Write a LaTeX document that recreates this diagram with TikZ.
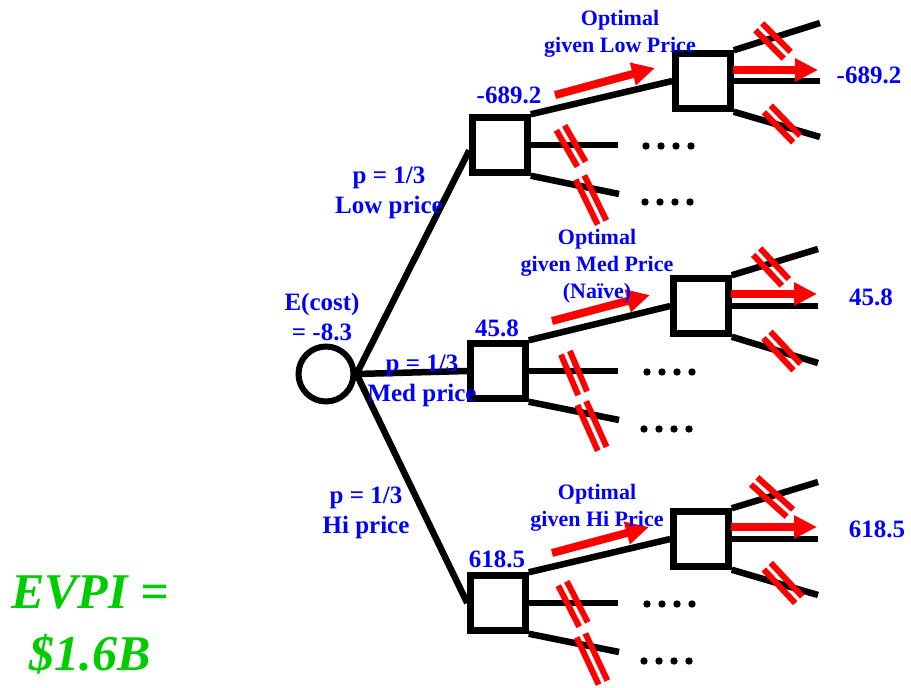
\documentclass[tikz,border=0pt]{standalone}
\usepackage{fontspec}
\setmainfont{Liberation Serif}
\usetikzlibrary{positioning,arrows.meta}
\definecolor{txtblue}{RGB}{0,0,255}
\definecolor{evgreen}{RGB}{0,204,0}
\tikzset{
  branch/.style={line width=6.5pt},
  choice/.style={draw, line width=6.5pt, fill=white, minimum size=55pt, inner sep=0pt},
  chance/.style={draw, circle, line width=6pt, minimum size=55pt, inner sep=0pt},
  cut/.style={red, line width=6pt},
  best/.style={red, line width=8pt, -{Triangle[length=23pt,width=22pt]}},
  lbl/.style={text=txtblue, font=\fontsize{25}{30}\selectfont\bfseries, align=center, inner sep=0pt, anchor=base},
  note/.style={text=txtblue, font=\fontsize{22}{27}\selectfont\bfseries, align=center, inner sep=0pt, anchor=base},
}
% two red strokes across a pruned branch
\newcommand{\cutmark}[3]{\draw[cut, shift={(#1)}, rotate=#2] (-#3,-4.8) -- (#3,-4.8) (-#3,4.8) -- (#3,4.8);}

\begin{document}
\begin{tikzpicture}[x=1pt, y=-1pt]
    \useasboundingbox (0,0) rectangle (911,688);
    \node[chance] at (326,374) (ch) { };
    \node[choice] at (500,145) (low) { };
    \node[choice] at (498,371) (med) { };
    \node[choice] at (498,603) (hi) { };
    \node[choice] at (703,81) (lowbest) { };
    \node[choice] at (701,306) (medbest) { };
    \node[choice] at (701,539) (hibest) { };
    % free ends of the branches
    \coordinate (low2) at (618,145);  \coordinate (low3) at (619,194);
    \coordinate (med2) at (618,371);  \coordinate (med3) at (619,420);
    \coordinate (hi2) at (618,603);   \coordinate (hi3) at (619,652);
    \coordinate (lowa) at (820,23);   \coordinate (lowb) at (820,81);   \coordinate (lowc) at (820,137);
    \coordinate (meda) at (818,249);  \coordinate (medb) at (818,306);  \coordinate (medc) at (818,363);
    \coordinate (hia) at (818,482);   \coordinate (hib) at (818,539);   \coordinate (hic) at (818,595);
    \draw[branch] (ch.east) -- (low.190);
    \draw[branch] (ch.east) -- (med.west);
    \draw[branch] (ch.east) -- (hi.west);
    \draw[branch] (low.north east) -- (lowbest.west);
    \draw[branch] (low.east) -- (low2);
    \draw[branch] (low.south east) -- (low3);
    \draw[branch] (med.north east) -- (medbest.west);
    \draw[branch] (med.east) -- (med2);
    \draw[branch] (med.south east) -- (med3);
    \draw[branch] (hi.north east) -- (hibest.west);
    \draw[branch] (hi.east) -- (hi2);
    \draw[branch] (hi.south east) -- (hi3);
    \draw[branch] (lowbest.north east) -- (lowa);
    \draw[branch] (lowbest.east) -- (lowb);
    \draw[branch] (lowbest.south east) -- (lowc);
    \draw[branch] (medbest.north east) -- (meda);
    \draw[branch] (medbest.east) -- (medb);
    \draw[branch] (medbest.south east) -- (medc);
    \draw[branch] (hibest.north east) -- (hia);
    \draw[branch] (hibest.east) -- (hib);
    \draw[branch] (hibest.south east) -- (hic);
    % the rest of the tree is left out
    \fill (646,146) circle (3.7) (661,146) circle (3.7) (676,146) circle (3.7) (691,146) circle (3.7);
    \fill (645,202) circle (3.7) (660,202) circle (3.7) (675,202) circle (3.7) (690,202) circle (3.7);
    \fill (647,372) circle (3.7) (662,372) circle (3.7) (677,372) circle (3.7) (692,372) circle (3.7);
    \fill (644,429) circle (3.7) (659,429) circle (3.7) (674,429) circle (3.7) (689,429) circle (3.7);
    \fill (647,604) circle (3.7) (662,604) circle (3.7) (677,604) circle (3.7) (692,604) circle (3.7);
    \fill (644,661) circle (3.7) (659,661) circle (3.7) (674,661) circle (3.7) (689,661) circle (3.7);
    % pruned branches
    \cutmark{571,146}{-60}{21}
    \cutmark{591,200}{-64}{25}
    \cutmark{773,41}{-45}{20}
    \cutmark{782,124}{-46}{21}
    \cutmark{574,373}{-67}{22}
    \cutmark{592,426}{-66}{25}
    \cutmark{771,267}{-47}{21}
    \cutmark{782,351}{-47}{22}
    \cutmark{573,604}{-63}{23}
    \cutmark{592,659}{-65}{26}
    \cutmark{772,497}{-42}{24}
    \cutmark{783,583}{-47}{23}
    % optimal decisions
    \coordinate (lowtail) at (555,95);   \coordinate (lowtip) at (655,68);
    \coordinate (medtail) at (552,321);  \coordinate (medtip) at (650,295);
    \coordinate (hitail) at (552,553);   \coordinate (hitip) at (649,527);
    \coordinate (lowr) at (733,70);   \coordinate (lowrtip) at (818,70);
    \coordinate (medr) at (731,294);  \coordinate (medrtip) at (817,294);
    \coordinate (hir) at (731,527);   \coordinate (hirtip) at (817,527);
    \draw[best] (lowtail) -- (lowtip);
    \draw[best] (medtail) -- (medtip);
    \draw[best] (hitail) -- (hitip);
    \draw[best] (lowr) -- (lowrtip);
    \draw[best] (medr) -- (medrtip);
    \draw[best] (hir) -- (hirtip);
    % labels
    \node[lbl] at (322,340) (ecost) {E(cost)\\= -8.3};
    \node[lbl] at (389,213) (plow) {p = 1/3\\Low price};
    \node[lbl] at (422,401) (pmed) {p = 1/3\\Med price};
    \node[lbl] at (366,533) (phi) {p = 1/3\\Hi price};
    \node[lbl] at (509,103) (vlow) {-689.2};
    \node[lbl] at (497,336) (vmed) {45.8};
    \node[lbl] at (497,567) (vhi) {618.5};
    \node[lbl] at (869,83) (rlow) {-689.2};
    \node[lbl] at (871,305) (rmed) {45.8};
    \node[lbl] at (877,537) (rhi) {618.5};
    \node[note] at (620,52) (optlow) {Optimal\\given Low Price};
    \node[note] at (597,298) (optmed) {Optimal\\given Med Price\\(Naïve)};
    \node[note] at (597,526) (opthi) {Optimal\\given Hi Price};
    \node[text=evgreen, font=\fontsize{50}{62}\selectfont\bfseries\itshape, align=center, inner sep=0pt, anchor=base] at (90,670) (evpi) {EVPI =\\\$1.6B};
\end{tikzpicture}
\end{document}
